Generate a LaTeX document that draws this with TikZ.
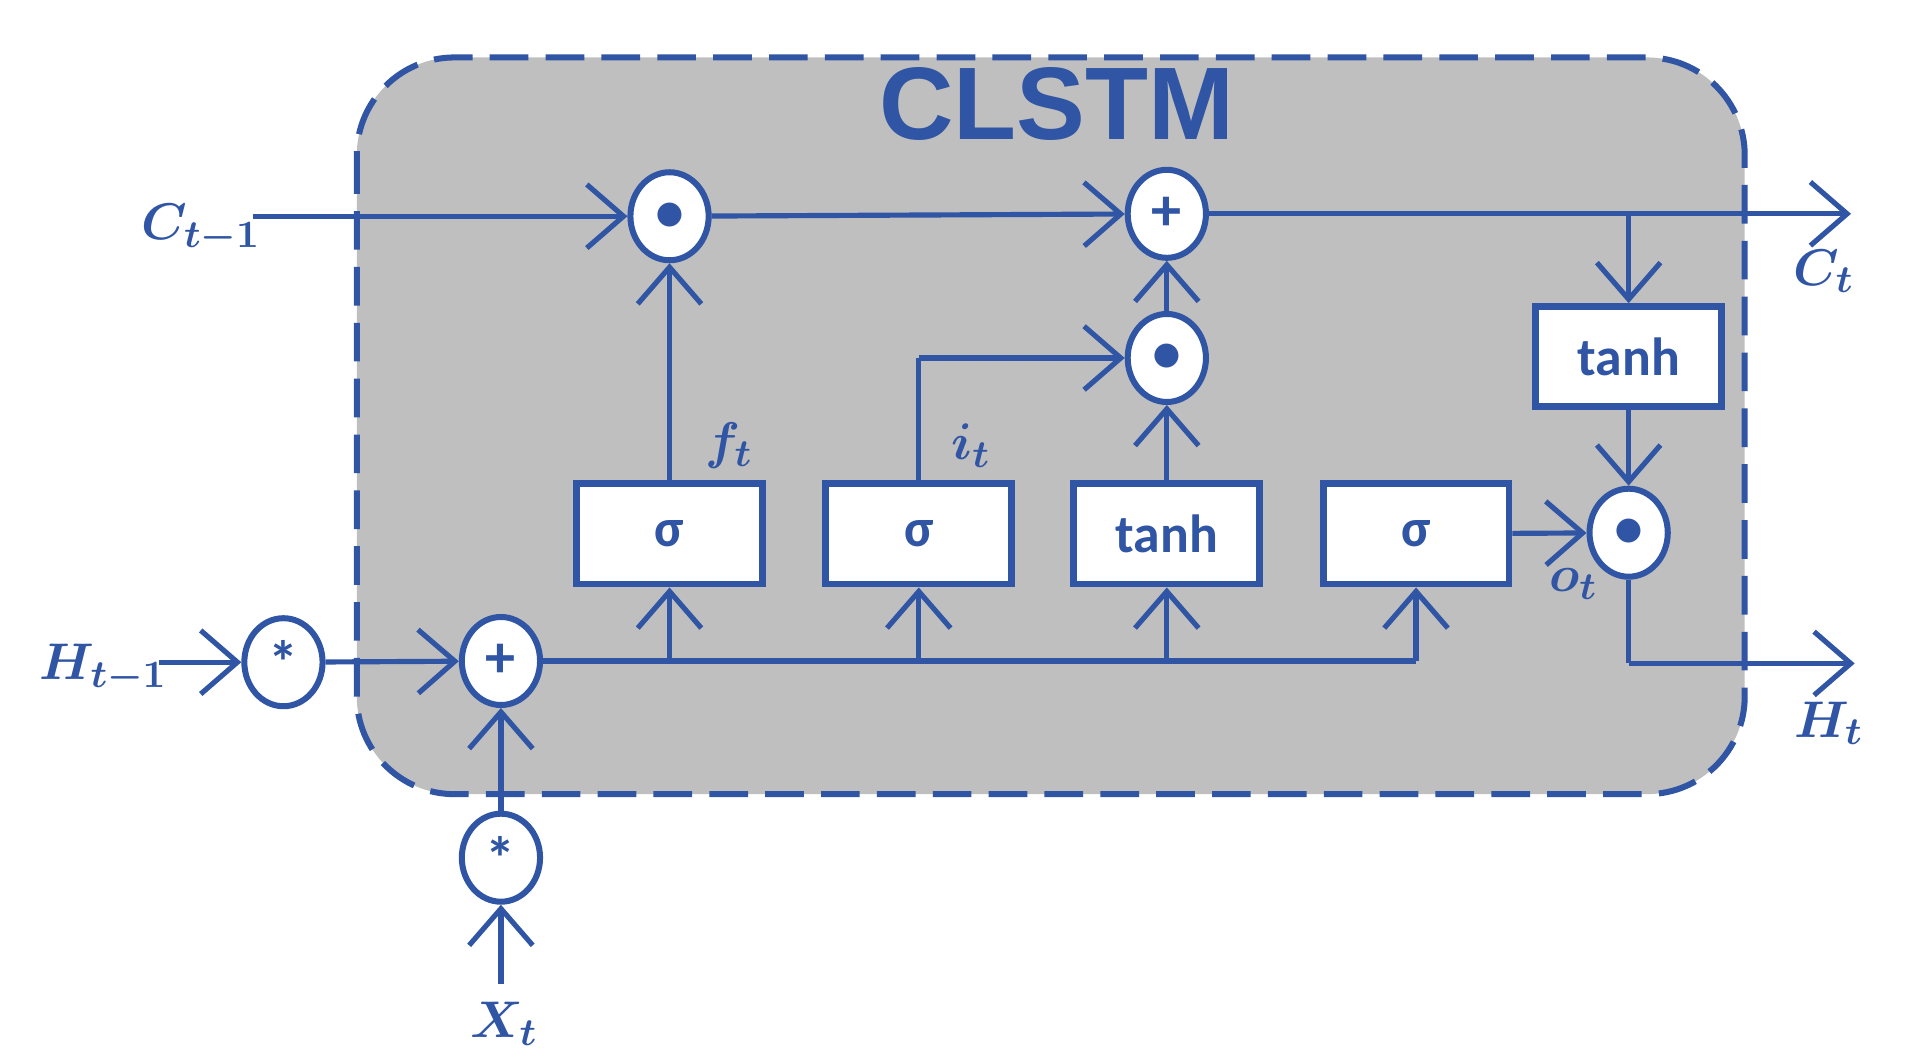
\documentclass[tikz,border=0pt]{standalone}
\usepackage{fontspec}
\setmainfont{Carlito}
\newfontfamily\titlefont{Liberation Sans}
\usepackage{amsmath,bm}
\usetikzlibrary{arrows.meta}
\definecolor{lb}{HTML}{2F55A4}
\definecolor{gr}{HTML}{BFBFBF}
\begin{document}
\begin{tikzpicture}[x=0.01cm,y=-0.01cm,
  line width=1.2pt, draw=lb,
  arr/.style={-{Straight Barb[length=0.3cm,width=0.52cm,line width=1.2pt]}},
  op/.style={ellipse,draw=lb,fill=white,line width=1.4pt,minimum width=0.64cm,minimum height=0.72cm,inner sep=0pt,text=lb,font=\bfseries\fontsize{14pt}{14pt}\selectfont},
  bx/.style={rectangle,draw=lb,fill=white,line width=1.6pt,minimum width=1.52cm,minimum height=0.82cm,text=lb,font=\bfseries\fontsize{12.5pt}{14pt}\selectfont},
  lab/.style={text=lb,font=\fontsize{13pt}{14pt}\selectfont}]
\useasboundingbox (0,0) rectangle (1560,870);
\usetikzlibrary{shapes.geometric}
\draw[lb,fill=gr,line width=1.4pt,dash pattern=on 9pt off 4pt,rounded corners=0.8cm] (292,47) rectangle (1428,650);
\node[text=lb,font=\titlefont\bfseries\fontsize{24pt}{24pt}\selectfont] (title) at (865,85) {CLSTM};
\node[op] (m1) at (548,177) {$\bullet$};
\node[op] (p1) at (955,175) {+};
\node[op] (m2) at (955,293) {$\bullet$};
\node[op] (m3) at (1333,436) {$\bullet$};
\node[op] (s1) at (232,542) {*};
\node[op] (p2) at (410,541) {+};
\node[op] (s2) at (410,702) {*};
\node[bx] (g1) at (548,437) {σ};
\node[bx] (g2) at (752,437) {σ};
\node[bx] (g3) at (955,437) {tanh};
\node[bx] (g4) at (1159,437) {σ};
\node[bx] (g5) at (1333,292) {tanh};
\coordinate (cin) at (207,177);
\coordinate (cout) at (1515,175);
\coordinate (hin) at (130,542);
\coordinate (hout) at (1518,543);
\coordinate (xin) at (410,805);
\coordinate (br) at (1333,175);
\coordinate (hc) at (1333,543);
\coordinate (ic) at (752,293);
\node[lab] (lc1) at (165,187) {$\boldsymbol{C_{t-1}}$};
\node[lab] (lc) at (1493,222) {$\boldsymbol{C_t}$};
\node[lab] (lh1) at (85,547) {$\boldsymbol{H_{t-1}}$};
\node[lab] (lh) at (1497,592) {$\boldsymbol{H_t}$};
\node[lab] (lx) at (413,838) {$\boldsymbol{X_t}$};
\node[lab] (lf) at (597,365) {$\boldsymbol{f_t}$};
\node[lab] (li) at (795,365) {$\boldsymbol{i_t}$};
\node[lab] (lo) at (1288,478) {$\boldsymbol{o_t}$};
\draw[arr] (cin) -- (m1);
\draw[arr] (m1) -- (p1);
\draw[arr] (p1) -- (cout);
\draw[arr] (br) -- (g5);
\draw[arr] (g5) -- (m3);
\draw[arr] (g4) -- (m3);
\draw (m3) -- (hc);
\draw[arr] (hc) -- (hout);
\draw[arr] (g1) -- (m1);
\draw (g2.north) -- (ic);
\draw[arr] (ic) -- (m2);
\draw[arr] (g3) -- (m2);
\draw[arr] (m2) -- (p1);
\draw[arr] (hin) -- (s1);
\draw[arr] (s1) -- (p2);
\draw[arr] (s2) -- (p2);
\draw[arr] (xin) -- (s2);
\draw (p2) -- (1159,541);
\draw[arr] (548,541) -- (g1);
\draw[arr] (752,541) -- (g2);
\draw[arr] (955,541) -- (g3);
\draw[arr] (1159,541) -- (g4);
\end{tikzpicture}
\end{document}
